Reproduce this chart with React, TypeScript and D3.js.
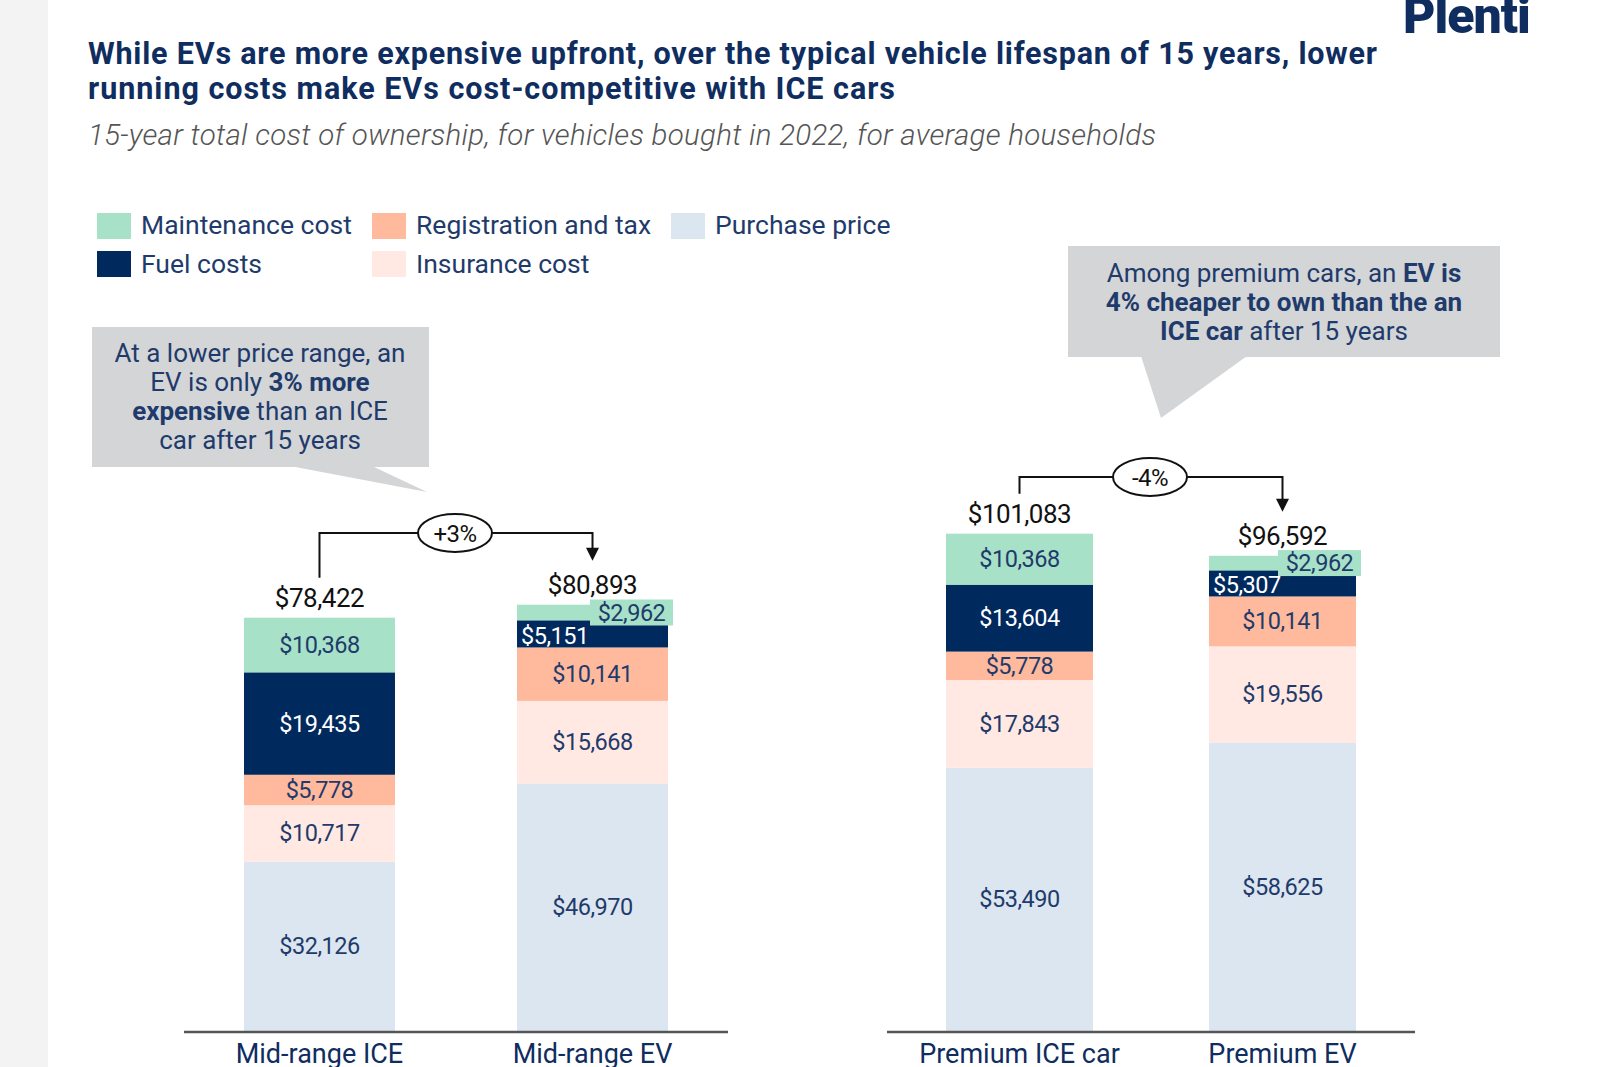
import * as d3 from 'd3'

const categories = ['Mid-range ICE', 'Mid-range EV', 'Premium ICE car', 'Premium EV']
const seriesKeys = ['purchase', 'insurance', 'registration', 'fuel', 'maintenance']
const seriesNames = ['Purchase price', 'Insurance cost', 'Registration and tax', 'Fuel costs', 'Maintenance cost']
const purchase = [32126, 46970, 53490, 58625]
const insurance = [10717, 15668, 17843, 19556]
const registration = [5778, 10141, 5778, 10141]
const fuel = [19435, 5151, 13604, 5307]
const maintenance = [10368, 2962, 10368, 2962]
const totals = [78422, 80893, 101083, 96592]
const changes = ['+3%', '-4%']

const colors: Record<string, string> = {
  purchase: '#dce6f0',
  insurance: '#ffe9e2',
  registration: '#ffb99d',
  fuel: '#00295e',
  maintenance: '#a7e1c8',
}

const NAVY = '#0f2d5f'
const LABEL = '#1f3b6b'
const FONT = 'Roboto, "Open Sans", sans-serif'
const BASE = 1031

const rows = categories.map((c, i) => ({
  category: c,
  purchase: purchase[i],
  insurance: insurance[i],
  registration: registration[i],
  fuel: fuel[i],
  maintenance: maintenance[i],
}))

const stacked = d3.stack<any>().keys(seriesKeys)(rows)

// two panels, each with its own scale
const panels = [
  { cats: [0, 1], x0: 244, x1: 668, pad: 0.447, axis: [184, 728], height: 527, bracketY: 533 },
  { cats: [2, 3], x0: 946, x1: 1356, pad: 0.441, axis: [887, 1415], height: 492, bracketY: 477 },
]

const fmt = (v: number) => '$' + d3.format(',')(v)

const legendCols = [['maintenance', 'fuel'], ['registration', 'insurance'], ['purchase']]
const legendX = [97, 372, 671]

function Panel({ p, pi }: { p: typeof panels[number]; pi: number }) {
  const x = d3.scaleBand<string>()
    .domain(p.cats.map(i => categories[i]))
    .range([p.x0, p.x1])
    .paddingInner(p.pad)
    .paddingOuter(0)
  const y = d3.scaleLinear().domain([0, 100000]).range([BASE, BASE - p.height])
  const bw = x.bandwidth()

  const ice = categories[p.cats[0]]
  const ev = categories[p.cats[1]]
  const iceC = x(ice)! + bw / 2
  const evC = x(ev)! + bw / 2
  const iceTop = y(totals[p.cats[0]])
  const evTop = y(totals[p.cats[1]])
  const by = p.bracketY
  const midX = pi === 0 ? 455 : 1150
  const tipY = evTop - 44

  return (
    <g>
      {stacked.map(layer => (
        <g key={layer.key}>
          {p.cats.map(ci => {
            const d = layer[ci]
            const x0 = x(categories[ci])!
            const yTop = y(d[1])
            const yBot = y(d[0])
            const h = yBot - yTop
            const val = d[1] - d[0]
            const small = val < 5500
            let label
            if (!small) {
              label = (
                <text x={x0 + bw / 2} y={(yTop + yBot) / 2 + 8} textAnchor="middle"
                  fontSize={23.5} fill={layer.key === 'fuel' ? '#fff' : LABEL} letterSpacing={-0.5}>
                  {fmt(val)}
                </text>
              )
            } else if (layer.key === 'maintenance') {
              const cy = (yTop + yBot) / 2
              label = (
                <g>
                  <rect x={x0 + bw - 78} y={cy - 13} width={83} height={26} fill={colors.maintenance} />
                  <text x={x0 + bw - 36.5} y={cy + 8} textAnchor="middle" fontSize={23.5} fill={LABEL} letterSpacing={-0.5}>
                    {fmt(val)}
                  </text>
                </g>
              )
            } else {
              label = (
                <text x={x0 + 4} y={yBot - 3} fontSize={23.5} fill="#fff" letterSpacing={-0.5}>
                  {fmt(val)}
                </text>
              )
            }
            return (
              <g key={ci}>
                <rect x={x0} y={yTop} width={bw} height={h} fill={colors[layer.key]} />
                {label}
              </g>
            )
          })}
        </g>
      ))}
      {p.cats.map(ci => (
        <text key={'t' + ci} x={x(categories[ci])! + bw / 2} y={y(totals[ci]) - 11}
          textAnchor="middle" fontSize={26} fill="#111" letterSpacing={-0.5}>
          {fmt(totals[ci])}
        </text>
      ))}
      <line x1={p.axis[0]} x2={p.axis[1]} y1={BASE + 1} y2={BASE + 1} stroke="#555" strokeWidth={2.5} />
      {p.cats.map(ci => (
        <text key={'c' + ci} x={x(categories[ci])! + bw / 2} y={1063} textAnchor="middle"
          fontSize={27} fill={NAVY}>
          {categories[ci]}
        </text>
      ))}
      <path d={`M${iceC},${iceTop - 40}V${by}H${evC}V${tipY - 12}`} fill="none" stroke="#111" strokeWidth={2} />
      <path d={`M${evC - 6.5},${tipY - 13}L${evC + 6.5},${tipY - 13}L${evC},${tipY}Z`} fill="#111" />
      <ellipse cx={midX} cy={by} rx={37} ry={19} fill="#fff" stroke="#111" strokeWidth={2} />
      <text x={midX} y={by + 8.5} textAnchor="middle" fontSize={24} fill="#111" letterSpacing={-0.5}>
        {changes[pi]}
      </text>
    </g>
  )
}

export default function App() {
  return (
    <svg width={1600} height={1067} style={{ position: 'absolute', left: 0, top: 0 }} fontFamily={FONT}>
      <rect x={0} y={0} width={1600} height={1067} fill="#fff" />
      <rect x={0} y={0} width={48} height={1067} fill="#f3f3f3" />

      <text x={1403} y={33} fontSize={50} fontWeight={900} fill={NAVY} letterSpacing={-1}>Plenti</text>

      <g fill={NAVY} fontWeight={700} fontSize={30.5}>
        <text x={88} y={64} textLength={1289} lengthAdjust="spacing">
          While EVs are more expensive upfront, over the typical vehicle lifespan of 15 years, lower
        </text>
        <text x={88} y={99} textLength={807} lengthAdjust="spacing">
          running costs make EVs cost-competitive with ICE cars
        </text>
      </g>
      <text x={88} y={145} fontSize={29.5} fontStyle="italic" fontWeight={300} fill="#555"
        textLength={1068} lengthAdjust="spacing">
        15-year total cost of ownership, for vehicles bought in 2022, for average households
      </text>

      {legendCols.map((col, ci) => (
        <g key={ci}>
          {col.map((k, ri) => (
            <g key={k}>
              <rect x={legendX[ci]} y={213 + ri * 38} width={34} height={26} fill={colors[k]} />
              <text x={legendX[ci] + 44} y={234 + ri * 39} fontSize={26.5} fill={LABEL} letterSpacing={0}>
                {seriesNames[seriesKeys.indexOf(k)]}
              </text>
            </g>
          ))}
        </g>
      ))}

      {/* callout boxes */}
      <g fill="#d4d5d7">
        <rect x={92} y={327} width={337} height={140} />
        <path d="M290,466L372,466L427,492Z" />
        <rect x={1068} y={246} width={432} height={111} />
        <path d="M1141,356L1247,356L1161,418Z" />
      </g>
      <g fontSize={26} fill={LABEL} textAnchor="middle" letterSpacing={0}>
        <text x={260} y={362}>At a lower price range, an</text>
        <text x={260} y={391}>EV is only <tspan fontWeight={700}>3% more</tspan></text>
        <text x={260} y={420}><tspan fontWeight={700}>expensive</tspan> than an ICE</text>
        <text x={260} y={449}>car after 15 years</text>
        <text x={1284} y={282}>Among premium cars, an <tspan fontWeight={700}>EV is</tspan></text>
        <text x={1284} y={311} fontWeight={700}>4% cheaper to own than the an</text>
        <text x={1284} y={340}><tspan fontWeight={700}>ICE car</tspan> after 15 years</text>
      </g>

      {panels.map((p, i) => <Panel key={i} p={p} pi={i} />)}
    </svg>
  )
}
